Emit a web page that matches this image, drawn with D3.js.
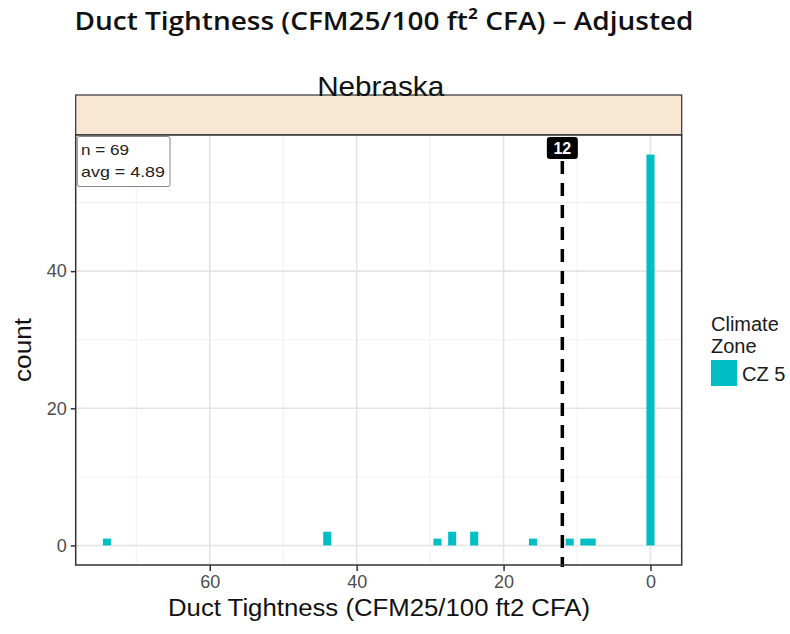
<!DOCTYPE html>
<html><head><meta charset="utf-8">
<script src="https://cdn.jsdelivr.net/npm/d3@7"></script>
<style>body{margin:0;background:#fff}svg{display:block}</style>
</head><body>
<script>
// ---- data ----
const binCenters = [74, 44, 29, 27, 24, 16, 11, 9, 8, 0];
const counts     = [1, 2, 1, 2, 2, 1, 1, 1, 1, 57];
const xTicks = [60, 40, 20, 0];
const xMinor = [70, 50, 30, 10];
const yTicks = [0, 20, 40];
const yMinor = [10, 30, 50];
const refValue = 12;
const statLines = ["n = 69", "avg = 4.89"];
const facetName = "Nebraska";
const legendTitle = ["Climate", "Zone"];
const legendLabels = ["CZ 5"];
const barColor = "#00BFC4";

const W = 790, H = 634;
const svg = d3.select("body").append("svg").attr("width", W).attr("height", H);

const L = 75.7, R = 681.7, T = 135, B = 565;
const x = d3.scaleLinear().domain([78.25, -4.25]).range([L, R]);
const y = d3.scaleLinear().domain([-2.85, 59.85]).range([B, T]);

// title
svg.append("text").attr("x", 384).attr("y", 30).attr("text-anchor", "middle")
  .attr("font-family", "'Open Sans', Lato, sans-serif").attr("font-weight", 600)
  .attr("font-size", 26).attr("textLength", 619).attr("lengthAdjust", "spacingAndGlyphs")
  .attr("fill", "#111").text("Duct Tightness (CFM25/100 ft\u00B2 CFA) \u2013 Adjusted");

// strip
svg.append("rect").attr("x", L).attr("y", 95).attr("width", R - L).attr("height", T - 95)
  .attr("fill", "#F8E7D3").attr("stroke", "#333").attr("stroke-width", 1.2);
svg.append("text").attr("x", (L + R) / 2 + 2).attr("y", 96).attr("text-anchor", "middle")
  .attr("font-family", "'Liberation Sans', Arial, sans-serif").attr("font-size", 28)
  .attr("textLength", 127).attr("lengthAdjust", "spacingAndGlyphs")
  .attr("fill", "#111").text(facetName);

// panel bg
const g = svg.append("g");
g.append("rect").attr("x", L).attr("y", T).attr("width", R - L).attr("height", B - T).attr("fill", "#fff");

// grid
g.selectAll(".xmin").data(xMinor).join("line").attr("x1", d => x(d)).attr("x2", d => x(d))
  .attr("y1", T).attr("y2", B).attr("stroke", "#F0F0F0").attr("stroke-width", 1);
g.selectAll(".ymin").data(yMinor).join("line").attr("y1", d => y(d)).attr("y2", d => y(d))
  .attr("x1", L).attr("x2", R).attr("stroke", "#F0F0F0").attr("stroke-width", 1);
g.selectAll(".xmaj").data(xTicks).join("line").attr("x1", d => x(d)).attr("x2", d => x(d))
  .attr("y1", T).attr("y2", B).attr("stroke", "#E4E4E4").attr("stroke-width", 1.6);
g.selectAll(".ymaj").data(yTicks).join("line").attr("y1", d => y(d)).attr("y2", d => y(d))
  .attr("x1", L).attr("x2", R).attr("stroke", "#E4E4E4").attr("stroke-width", 1.6);

// bars
const bars = binCenters.map((c, i) => ({c, n: counts[i]}));
g.selectAll(".bar").data(bars).join("rect")
  .attr("x", d => x(d.c + 0.55)).attr("width", d => x(d.c - 0.55) - x(d.c + 0.55))
  .attr("y", d => y(d.n)).attr("height", d => y(0) - y(d.n)).attr("fill", barColor);

// dashed ref line
g.append("line").attr("x1", x(refValue)).attr("x2", x(refValue)).attr("y1", 161).attr("y2", B + 2)
  .attr("stroke", "#000").attr("stroke-width", 3.5).attr("stroke-dasharray", "13,9");

// ref label
const lx = x(refValue);
svg.append("rect").attr("x", lx - 15.5).attr("y", 137).attr("width", 31).attr("height", 22)
  .attr("rx", 3).attr("fill", "#000");
svg.append("text").attr("x", lx).attr("y", 154).attr("text-anchor", "middle")
  .attr("font-family", "'Liberation Sans', Arial, sans-serif").attr("font-size", 16)
  .attr("font-weight", "bold").attr("fill", "#fff").text(refValue);

// stat box
svg.append("rect").attr("x", 77.3).attr("y", 136.5).attr("width", 92.7).attr("height", 50)
  .attr("fill", "#fff").attr("stroke", "#888").attr("stroke-width", 1).attr("rx", 2);
const statW = [48, 84];
svg.selectAll(".stat").data(statLines).join("text")
  .attr("x", 81).attr("y", (d, i) => 155 + i * 22)
  .attr("font-family", "'Liberation Sans', Arial, sans-serif").attr("font-size", 15)
  .attr("textLength", (d, i) => statW[i]).attr("lengthAdjust", "spacingAndGlyphs")
  .attr("fill", "#222").text(d => d);

// panel border
svg.append("rect").attr("x", L).attr("y", T).attr("width", R - L).attr("height", B - T)
  .attr("fill", "none").attr("stroke", "#333").attr("stroke-width", 1.5);

// axes
const xAxis = svg.append("g").attr("transform", `translate(0,${B})`)
  .call(d3.axisBottom(x).tickValues(xTicks).tickSize(6).tickPadding(4));
const yAxis = svg.append("g").attr("transform", `translate(${L},0)`)
  .call(d3.axisLeft(y).tickValues(yTicks).tickSize(5).tickPadding(4));
[xAxis, yAxis].forEach(a => {
  a.select(".domain").remove();
  a.selectAll(".tick line").attr("stroke", "#333").attr("stroke-width", 1.5);
  a.selectAll(".tick text").attr("fill", "#4D4D4D").attr("font-size", 18)
    .attr("font-family", "'Liberation Sans', Arial, sans-serif");
});

// axis titles
svg.append("text").attr("x", 379).attr("y", 616).attr("text-anchor", "middle")
  .attr("font-family", "'Liberation Sans', Arial, sans-serif").attr("font-size", 23)
  .attr("textLength", 422).attr("lengthAdjust", "spacingAndGlyphs")
  .attr("fill", "#111").text("Duct Tightness (CFM25/100 ft2 CFA)");
svg.append("text").attr("transform", "translate(31,350) rotate(-90)").attr("text-anchor", "middle")
  .attr("font-family", "'Liberation Sans', Arial, sans-serif").attr("font-size", 23)
  .attr("textLength", 64).attr("lengthAdjust", "spacingAndGlyphs")
  .attr("fill", "#111").text("count");

// legend
svg.selectAll(".lt").data(legendTitle).join("text").attr("x", 711).attr("y", (d, i) => 331 + i * 22)
  .attr("font-family", "'Liberation Sans', Arial, sans-serif").attr("font-size", 20)
  .attr("fill", "#1a1a1a").text(d => d);
svg.selectAll(".ls").data(legendLabels).join("rect").attr("x", 711).attr("y", 360)
  .attr("width", 26).attr("height", 26).attr("fill", barColor);
svg.selectAll(".ll").data(legendLabels).join("text").attr("x", 742).attr("y", 381)
  .attr("font-family", "'Liberation Sans', Arial, sans-serif").attr("font-size", 20)
  .attr("fill", "#1a1a1a").text(d => d);
</script>
</body></html>
